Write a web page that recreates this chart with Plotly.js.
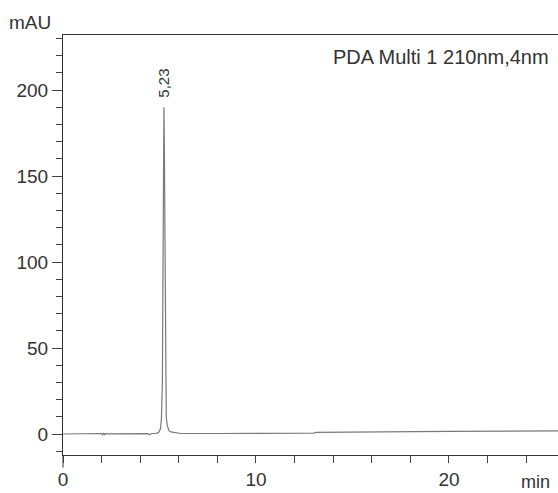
<!DOCTYPE html>
<html>
<head>
<meta charset="utf-8">
<script src="https://cdn.plot.ly/plotly-3.0.1.min.js"></script>
<style>html,body{margin:0;padding:0;background:#fff;}#chart{width:558px;height:493px;}</style>
</head>
<body>
<div id="chart"></div>
<script>
var timeMin = [0, 1.9, 2.0, 2.05, 2.1, 2.15, 2.2, 2.3, 3.5, 4.4, 4.5, 4.6, 4.8, 4.95, 5.05, 5.1, 5.15, 5.18, 5.21, 5.23, 5.25, 5.28, 5.31, 5.35, 5.4, 5.45, 5.5, 5.6, 5.8, 6.0, 6.1, 8, 10, 12, 13.0, 13.1, 16, 20, 25.7];
var signalMAU = [0, 0, 0.3, -0.5, 0.6, -0.3, 0.2, 0.1, 0.2, 0.2, -0.4, 0.3, 0.3, 0.8, 3, 9, 30, 100, 175, 190, 170, 95, 35, 10, 5, 3, 1.8, 1.2, 0.8, 0.5, 0.3, 0.3, 0.4, 0.5, 0.5, 1.0, 1.3, 1.5, 1.8];
var peakTime = [5.23];
var peakLabel = ["5,23"];
var peakHeight = [190];
var xTicks = [0, 10, 20];
var yTicks = [0, 50, 100, 150, 200];

var font = "Liberation Sans, Arial, sans-serif";
var data = [{
  x: timeMin, y: signalMAU, type: "scatter", mode: "lines",
  line: {color: "#7a7a7a", width: 1.2}, hoverinfo: "skip"
}];
var layout = {
  width: 558, height: 493,
  margin: {l: 63, r: 0, t: 35, b: 38},
  paper_bgcolor: "#fff", plot_bgcolor: "#fff",
  showlegend: false,
  xaxis: {
    range: [0, 25.65], tickvals: xTicks, ticktext: xTicks.map(String),
    ticks: "outside", ticklen: 7, tickcolor: "#444", tickwidth: 1,
    minor: {dtick: 2, ticks: "outside", ticklen: 7, tickcolor: "#444", tickwidth: 1},
    showline: true, linecolor: "#333", linewidth: 1, mirror: true,
    showgrid: false, zeroline: false,
    tickfont: {family: font, size: 19, color: "#333"}
  },
  yaxis: {
    range: [-12.2, 232], tickvals: yTicks, ticktext: yTicks.map(String),
    ticks: "outside", ticklen: 10, tickcolor: "#444", tickwidth: 1,
    minor: {dtick: 10, ticks: "outside", ticklen: 6, tickcolor: "#444", tickwidth: 1},
    showline: true, linecolor: "#333", linewidth: 1,
    showgrid: false, zeroline: false,
    tickfont: {family: font, size: 19, color: "#333"}
  },
  shapes: [{type: "line", xref: "paper", yref: "paper", x0: 0, x1: 0, y0: 0, y1: -0.03, line: {color: "#333", width: 1}}],
  annotations: [
    {xref: "paper", yref: "paper", x: -0.113, y: 1.0, yshift: 13, xanchor: "left", yanchor: "middle", text: "mAU", showarrow: false, font: {family: font, size: 19, color: "#333"}},
    {xref: "paper", yref: "paper", x: 1.0, y: 0, xshift: -6, yshift: -27, xanchor: "right", yanchor: "middle", text: "min", showarrow: false, font: {family: font, size: 18, color: "#333"}},
    {xref: "paper", yref: "paper", x: 1.0, y: 1.0, xshift: -7, yshift: -22, xanchor: "right", yanchor: "middle", text: "PDA Multi 1 210nm,4nm", showarrow: false, font: {family: font, size: 20, color: "#333"}},
    {x: peakTime[0], y: peakHeight[0], xref: "x", yref: "y", text: peakLabel[0], textangle: -90, showarrow: false, xanchor: "center", yanchor: "bottom", yshift: 8, font: {family: font, size: 15, color: "#333"}}
  ]
};
Plotly.newPlot("chart", data, layout, {staticPlot: true, displayModeBar: false});
</script>
</body>
</html>
